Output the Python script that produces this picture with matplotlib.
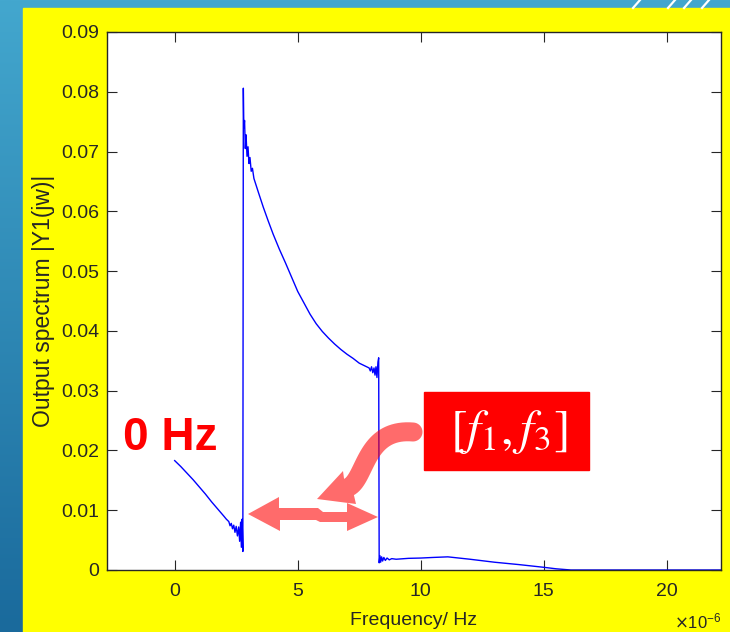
import matplotlib
matplotlib.use("Agg")
import matplotlib.pyplot as plt
import numpy as np
from matplotlib.patches import Rectangle, Polygon
from matplotlib.colors import LinearSegmentedColormap

############################################################
# data (frequency in units of 1e-6 Hz)
freq_low = [0.00, 0.25, 0.50, 0.75, 1.00, 1.25, 1.50, 1.75, 2.00, 2.10,
            2.20, 2.25, 2.30, 2.35, 2.40, 2.45, 2.50, 2.55, 2.60, 2.64,
            2.68, 2.71, 2.74, 2.77]
amp_low = [0.0183, 0.0173, 0.0162, 0.0151, 0.0139, 0.0127, 0.0114, 0.0102, 0.0090, 0.0085,
           0.0081, 0.0074, 0.0078, 0.0069, 0.0075, 0.0063, 0.0073, 0.0057, 0.0072, 0.0048,
           0.0080, 0.0038, 0.0085, 0.0031]

freq_band = [2.79, 2.81, 2.84, 2.87, 2.90, 2.94, 2.98, 3.02, 3.06, 3.11,
             3.16, 3.22, 3.40, 3.60, 3.80, 4.00, 4.25, 4.50, 4.75, 5.00,
             5.25, 5.50, 5.75, 6.00, 6.25, 6.50, 6.75, 7.00, 7.25, 7.50,
             7.75, 7.90, 7.95, 8.00, 8.05, 8.10, 8.14, 8.18, 8.22, 8.26,
             8.29]
amp_band = [0.0806, 0.0740, 0.0752, 0.0705, 0.0728, 0.0692, 0.0708, 0.0680, 0.0690, 0.0667,
            0.0672, 0.0655, 0.0632, 0.0607, 0.0584, 0.0562, 0.0537, 0.0514, 0.0490, 0.0466,
            0.0447, 0.0428, 0.0412, 0.0399, 0.0388, 0.0378, 0.0369, 0.0361, 0.0354, 0.0346,
            0.0341, 0.0338, 0.0333, 0.0340, 0.0330, 0.0338, 0.0326, 0.0340, 0.0322, 0.0348,
            0.0355]

freq_high = [8.31, 8.34, 8.37, 8.41, 8.45, 8.50, 8.56, 8.63, 8.72, 8.82,
             9.00, 9.50, 10.00, 10.50, 11.10, 12.00, 13.00, 14.00, 15.00, 15.50,
             16.10, 18.00, 20.00, 22.20]
amp_high = [0.0012, 0.0024, 0.0013, 0.0022, 0.0015, 0.0021, 0.0016, 0.0020, 0.0017, 0.0019,
            0.0018, 0.00195, 0.0020, 0.0021, 0.0022, 0.0018, 0.0013, 0.0009, 0.00045, 0.0002,
            0.0, 0.0, 0.0, 0.0]

x_ticks = [0, 5, 10, 15, 20]
x_tick_labels = ["0", "5", "10", "15", "20"]
y_ticks = [0, 0.01, 0.02, 0.03, 0.04, 0.05, 0.06, 0.07, 0.08, 0.09]
y_tick_labels = ["0", "0.01", "0.02", "0.03", "0.04", "0.05", "0.06", "0.07", "0.08", "0.09"]

############################################################

W, H = 730, 632
plt.rcParams["font.family"] = ["Liberation Sans", "DejaVu Sans"]

fig = plt.figure(figsize=(W / 100, H / 100), dpi=100)

# slide background
bg = fig.add_axes([0, 0, 1, 1], zorder=0)
bg.set_xlim(0, W)
bg.set_ylim(H, 0)
bg.axis("off")
grad = np.linspace(0, 1, 256).reshape(-1, 1)
cmap = LinearSegmentedColormap.from_list("slide", ["#43a7ce", "#1a6a9c"])
bg.imshow(grad, cmap=cmap, extent=[0, W, H, 0], aspect="auto")
bg.add_patch(Rectangle((23, 8), W - 23, H - 8, color="#ffff00"))
for sx in [633, 668, 684, 702]:
    bg.plot([sx, sx + 7], [8, 0], color="white", lw=1.6)

# main axes
ax = fig.add_axes([107 / W, (H - 570) / H, (721 - 107) / W, (570 - 32) / H], zorder=1)
freq = freq_low + freq_band + freq_high
amp = amp_low + amp_band + amp_high
ax.plot(freq, amp, color="#0000ff", lw=1.0)
ax.set_xlim(-2.75, 22.2)
ax.set_ylim(0, 0.09)
ax.set_xticks(x_ticks)
ax.set_xticklabels(x_tick_labels)
ax.set_yticks(y_ticks)
ax.set_yticklabels(y_tick_labels)
ax.tick_params(direction="in", length=7, width=0.8, top=True, right=True,
               labelsize=14, colors="#262626")
ax.tick_params(axis="y", pad=5.5)
ax.tick_params(axis="x", pad=9)
for s in ax.spines.values():
    s.set_color("#262626")
    s.set_linewidth(1.0)
ax.set_xlabel("Frequency/ Hz", fontsize=14, color="#262626")
ax.xaxis.set_label_coords(0.5, -0.078)
ax.set_ylabel("Output spectrum |Y1(jw)|", fontsize=16.5, color="#262626")
ax.yaxis.set_label_coords(-0.085, 0.5)

# overlay for slide annotations, in pixel coordinates
ov = fig.add_axes([0, 0, 1, 1], zorder=2)
ov.set_xlim(0, W)
ov.set_ylim(H, 0)
ov.axis("off")
ov.patch.set_alpha(0)

ov.text(721, 628, r"$\times\mathregular{10^{-6}}$", fontsize=12, color="#262626",
        ha="right", va="baseline")

ov.text(170, 450, "0 Hz", color="red", fontsize=33, fontweight="bold",
        ha="center", va="baseline")

ov.add_patch(Rectangle((424, 392), 165, 78, color="red"))
ov.text(509, 432, r"$[f_1,f_3]$", color="white", fontsize=36, ha="center",
        va="center", math_fontfamily="stix")

arrow_col = "red"
arrow_alpha = 0.58

# double headed arrow with a small step in the shaft
dbl = [(248, 514), (279, 497), (279, 508), (318, 508), (323, 512), (347, 512),
       (347, 503), (378, 517), (347, 531), (347, 522), (320, 522), (316, 520),
       (280, 520), (280, 531)]
ov.add_patch(Polygon(dbl, closed=True, color=arrow_col, alpha=arrow_alpha, lw=0))

# curved arrow: bezier shaft + head, built as one outline
p0, p1, p2, p3 = map(np.array, [(413, 432), (365, 428), (366, 478), (349, 487)])
t = np.linspace(0, 1, 40)[:, None]
curve = (1 - t) ** 3 * p0 + 3 * (1 - t) ** 2 * t * p1 + 3 * (1 - t) * t ** 2 * p2 + t ** 3 * p3
d = np.gradient(curve, axis=0)
d /= np.linalg.norm(d, axis=1)[:, None]
nrm = np.column_stack([-d[:, 1], d[:, 0]])
half = 9.5
left = curve + nrm * half
right = curve - nrm * half
a0 = np.arctan2(nrm[0, 1], nrm[0, 0])
ang = np.linspace(a0 + np.pi, a0, 20)
cap = p0 + half * np.column_stack([np.cos(ang), np.sin(ang)])
head = np.array([(343, 471), (317, 499), (356, 504)])
outline = np.vstack([cap, left, head, right[::-1]])
ov.add_patch(Polygon(outline, closed=True, color=arrow_col, alpha=arrow_alpha, lw=0))

fig.savefig("out.png", dpi=100)
